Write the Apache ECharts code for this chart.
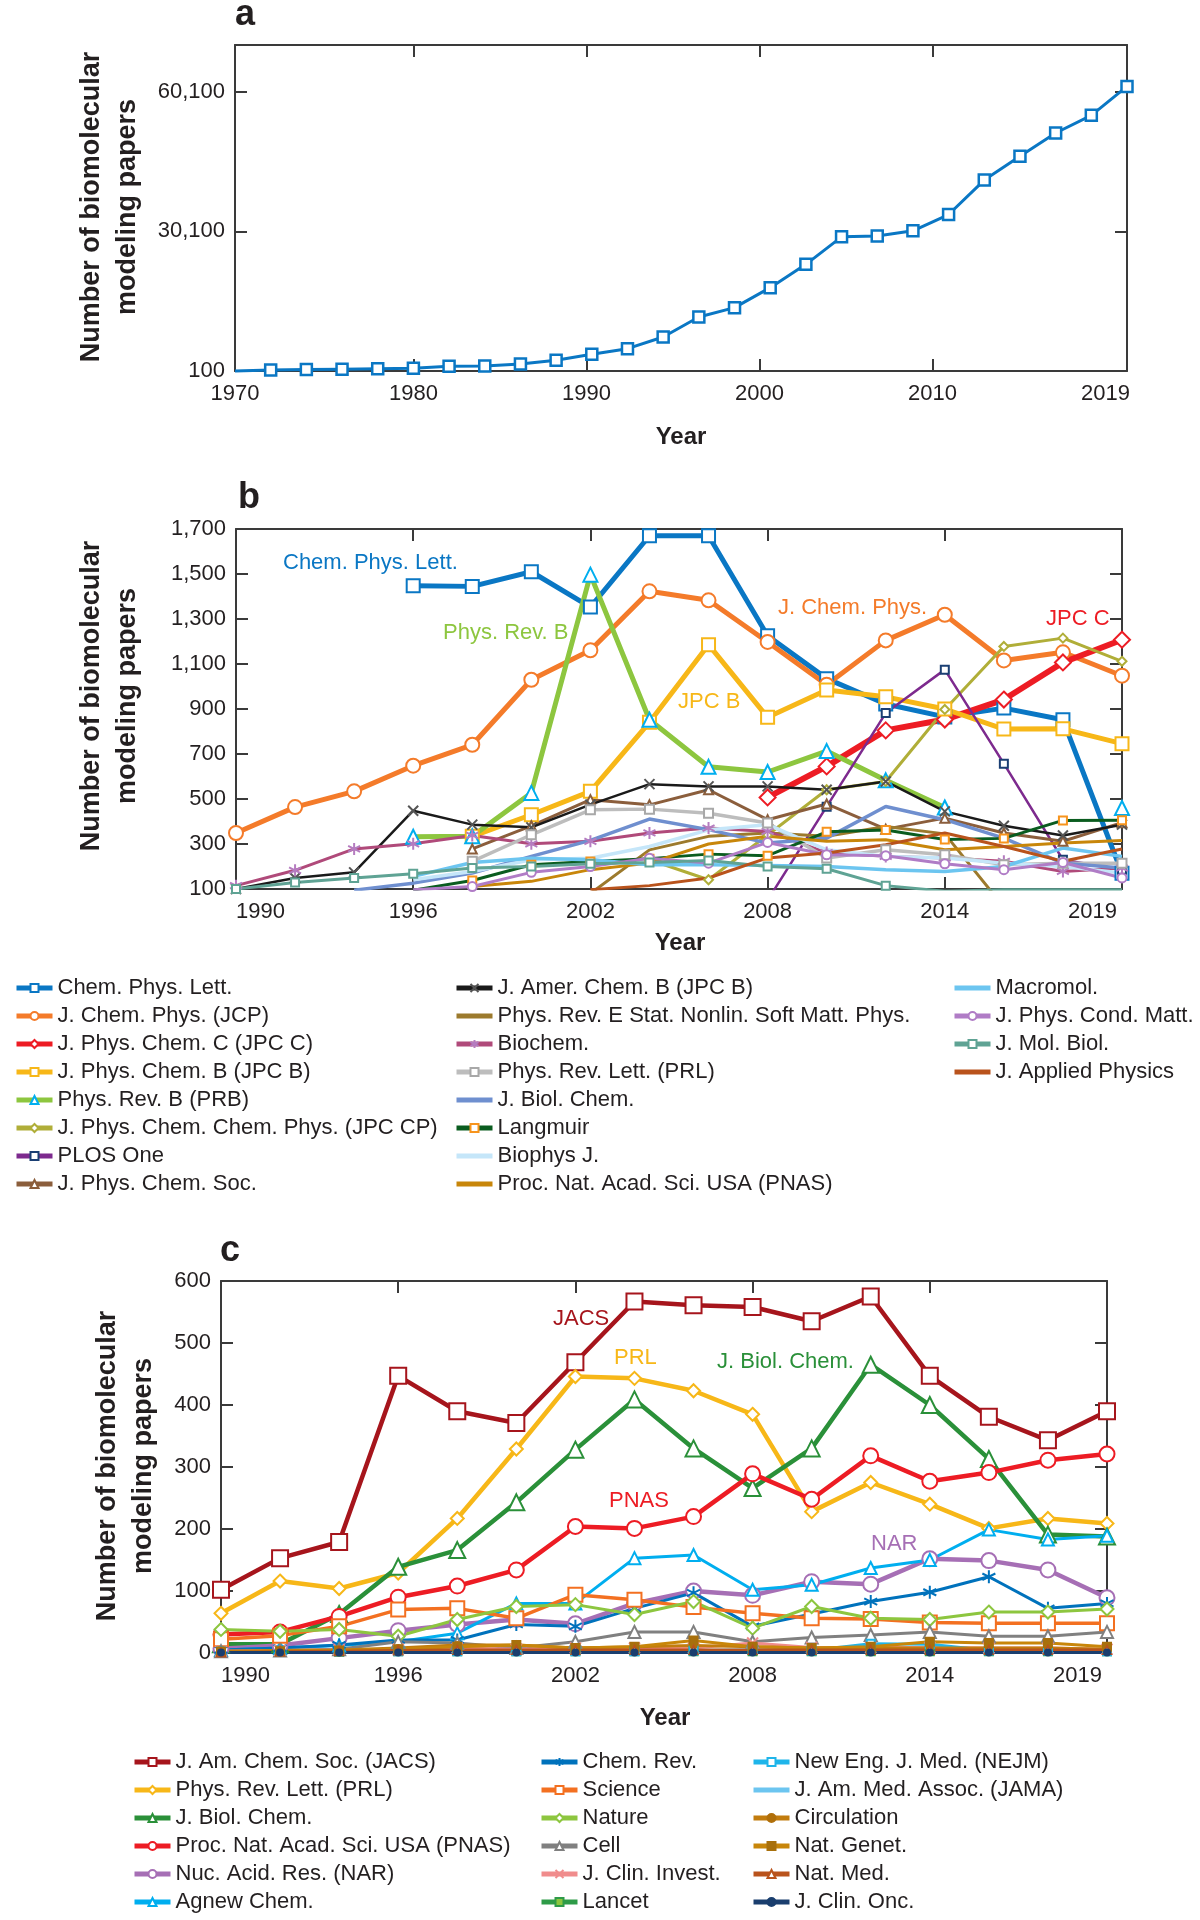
<!DOCTYPE html>
<html><head><meta charset="utf-8">
<script src="https://cdn.jsdelivr.net/npm/echarts@6/dist/echarts.min.js"></script>
<style>html,body{margin:0;padding:0;background:#fff}#c{width:1200px;height:1920px}</style>
</head><body><div id="c"></div><script>
// ---------------- DATA ----------------
// Panel a
const yearsA = [1970,1972,1974,1976,1978,1980,1982,1984,1986,1988,1990,1992,1994,1996,1998,2000,2002,2004,2006,2008,2010,2012,2014,2016,2018,2020];
const papersA = [100,300,400,500,600,700,1100,1200,1600,2400,3700,4900,7400,11700,13700,18000,23000,28900,29100,30200,33700,41100,46200,51200,55000,61200];
const xLabelTextA = ['1970','1980','1990','2000','2010','2019'];
const xLabelPosA = [1970,1980,1989.7,1999.4,2009.1,2018.8];
const xTickPosA = [1980,1989.7,1999.4,2009.1];
const yLabelsA = [100,30100,60100];

// Panels b and c share years
const yearsBC = [1990,1992,1994,1996,1998,2000,2002,2004,2006,2008,2010,2012,2014,2016,2018,2020];
const xLabelsBC = [1990,1996,2002,2008,2014,2019];
const xTicksBC = [1996,2002,2008,2014];
const yLabelsB = [100,300,500,700,900,1100,1300,1500,1700];
const yTicksB = [300,500,700,900,1100,1300,1500];
const yLabelsC = [0,100,200,300,400,500,600];
const yTicksC = [100,200,300,400,500];

// Panel b series
const bCPL      = [null,null,null,1448,1445,1510,1353,1670,1670,1226,1035,922,865,904,852,170];
const bJCP      = [349,464,534,648,741,1030,1161,1423,1383,1198,1008,1205,1319,1116,1152,1048];
const bJPCC     = [null,null,null,null,null,null,null,null,null,507,645,805,853,942,1107,1208];
const bJPCB     = [null,null,null,null,334,430,534,841,1186,863,984,954,900,811,812,746];
const bPRB      = [null,null,null,332,334,527,1497,852,643,620,713,583,462,null,null,460];
const bJPCCP    = [null,null,null,null,null,null,null,230,141,340,541,578,898,1178,1215,1112];
const bPLOS     = [null,null,null,null,null,null,null,null,null,50,466,882,1075,657,230,186];
const bJPCS     = [null,null,null,null,278,381,497,474,541,408,478,366,415,349,312,395];
const bJACB     = [100,149,174,448,386,374,475,566,556,556,541,578,445,381,338,386];
const bPRE      = [null,null,null,null,null,null,80,274,334,349,334,378,345,20,null,null];
const bBiochem  = [115,183,278,301,338,301,312,349,371,356,262,245,238,223,178,193];
const bPRL      = [null,null,null,null,223,341,452,455,437,393,238,274,252,208,215,215];
const bJBC      = [null,null,95,126,171,245,316,411,364,304,326,467,408,326,215,193];
const bLangmuir = [null,null,null,95,138,208,222,235,255,248,354,362,320,325,405,406];
const bBiophys  = [null,null,null,141,178,230,237,289,363,386,274,245,238,215,200,171];
const bPNAS     = [null,null,null,null,111,134,186,215,300,334,312,319,274,289,304,316];
const bMacromol = [null,null,null,156,218,237,230,208,208,205,200,186,178,200,282,245];
const bJPCM     = [null,null,null,97,111,174,200,237,215,307,252,248,212,186,218,149];
const bJMB      = [100,129,149,168,193,200,212,218,227,200,190,115,90,97,97,97];
const bJAP      = [null,null,null,null,null,null,97,115,149,238,260,297,349,289,223,278];

// Panel c series
const cJACS    = [102,153,179,447,390,371,469,567,561,558,535,575,447,381,343,390];
const cPRL     = [64,116,104,129,217,329,446,443,423,385,228,275,240,201,217,209];
const cJBC     = [14,14,63,139,166,243,328,409,330,266,330,465,400,313,191,188];
const cPNAS    = [30,34,59,90,108,134,204,201,220,289,248,318,277,291,311,321];
const cNAR     = [7,12,24,36,46,54,47,80,100,93,115,111,152,149,134,89];
const cAgnew   = [5,8,12,18,32,80,80,153,158,102,110,137,150,199,183,189];
const cChemRev = [5,8,13,21,21,46,43,72,97,43,63,83,98,123,72,80];
const cScience = [22,28,43,70,72,56,94,86,74,64,56,55,49,48,48,48];
const cNature  = [38,35,38,27,54,75,78,62,83,40,75,56,54,66,66,71];
const cCell    = [3,4,6,18,16,8,18,34,34,18,25,29,34,27,27,34];
const cJCI     = [3,4,5,6,8,6,8,8,8,16,9,9,9,8,8,6];
const cLancet  = [2,2,2,3,3,3,3,3,3,3,3,3,3,3,3,3];
const cNEJM    = [2,2,3,3,3,3,3,3,4,5,4,15,14,4,4,3];
const cJAMA    = [1,1,1,2,2,2,2,2,2,2,2,2,2,2,2,2];
const cCirc    = [3,4,5,8,13,13,8,10,12,10,8,8,8,8,8,6];
const cNatGen  = [2,3,4,6,10,13,8,10,20,10,8,10,18,16,16,10];
const cNatMed  = [1,2,3,4,5,5,5,5,5,5,5,5,5,5,5,5];
const cJCO     = [1,1,1,1,1,1,1,1,1,1,1,1,1,1,1,1];

// ---------------- STYLE ----------------
const FONT = '"Liberation Sans", Arial, Helvetica, sans-serif';
const INK = '#231f20';
const AXC = '#3a3a3a';
const ASTER = 'path://M5,0L5,10M0.67,2.5L9.33,7.5M0.67,7.5L9.33,2.5';
const CROSS = 'path://M0,0L10,10M0,10L10,0';
const CLEAR = 'rgba(0,0,0,0)';

const xAxes = [], yAxes = [];
function lab(v, pos, txt) {
  let best = 0, d = 1e9;
  pos.forEach((p, i) => { const dd = Math.abs(p - v); if (dd < d) { d = dd; best = i; } });
  return txt[best];
}
function frame(gi, xr, xLabPos, xLabTxt, xTicks, yr, yLabPos, yTicks, alignMin) {
  const line = {show: true, onZero: false, lineStyle: {color: AXC, width: 2}};
  const tick = vals => ({show: true, inside: true, length: 12, customValues: vals, lineStyle: {color: AXC, width: 2}});
  const lblStyle = {fontSize: 22, fontFamily: FONT, color: INK};
  xAxes.push({gridIndex: gi, type: 'value', position: 'bottom', min: xr[0], max: xr[1],
    axisLine: line, axisTick: tick(xTicks), splitLine: {show: false},
    axisLabel: Object.assign({customValues: xLabPos, margin: 12,
      formatter: v => lab(v, xLabPos, xLabTxt), alignMinLabel: alignMin ? 'left' : 'center'}, lblStyle)});
  xAxes.push({gridIndex: gi, type: 'value', position: 'top', min: xr[0], max: xr[1],
    axisLine: line, axisTick: tick(xTicks), splitLine: {show: false}, axisLabel: {show: false}});
  yAxes.push({gridIndex: gi, type: 'value', position: 'left', min: yr[0], max: yr[1],
    axisLine: line, axisTick: tick(yTicks), splitLine: {show: false},
    axisLabel: Object.assign({customValues: yLabPos, margin: 10,
      formatter: v => Number(v).toLocaleString('en-US')}, lblStyle)});
  yAxes.push({gridIndex: gi, type: 'value', position: 'right', min: yr[0], max: yr[1],
    axisLine: line, axisTick: tick(yTicks), splitLine: {show: false}, axisLabel: {show: false}});
}
frame(0, [1970, 2020], xLabelPosA, xLabelTextA, xTickPosA, [100, 70100], yLabelsA, [30100, 60100], false);
frame(1, [1990, 2020], xLabelsBC, xLabelsBC.map(String), xTicksBC, [100, 1700], yLabelsB, yTicksB, true);
frame(2, [1990, 2020], xLabelsBC, xLabelsBC.map(String), xTicksBC, [0, 600], yLabelsC, yTicksC, true);

function ser(gi, name, vals, color, width, symbol, size, mColor, fill, bw) {
  const item = symbol
    ? {color: fill || '#fff', borderColor: mColor || color, borderWidth: bw || 2}
    : {color: CLEAR, borderColor: CLEAR, borderWidth: 0, opacity: 0};
  return {
    type: 'line', name, xAxisIndex: 2 * gi, yAxisIndex: 2 * gi,
    data: yearsBC.map((y, i) => [y, vals[i] == null ? '-' : vals[i]]),
    connectNulls: false, clip: true,
    symbol: symbol || 'none', symbolSize: size || 0, showSymbol: !!symbol,
    lineStyle: {color, width},
    itemStyle: item,
    emphasis: {disabled: true}, silent: true, animation: false
  };
}

const series = [];
// panel a
series.push({
  type: 'line', name: 'all', xAxisIndex: 0, yAxisIndex: 0,
  data: yearsA.map((y, i) => i === 0 ? {value: [y, papersA[i]], symbol: 'none'} : [y, papersA[i]]),
  symbol: 'rect', symbolSize: 11, showSymbol: true, clip: false,
  lineStyle: {color: '#0a77c4', width: 3},
  itemStyle: {color: '#fff', borderColor: '#0a77c4', borderWidth: 2.5},
  emphasis: {disabled: true}, silent: true
});

// panel b
const B = [
  ['Chem. Phys. Lett.', bCPL, '#0a77c4', 5, 'rect', 13],
  ['J. Chem. Phys. (JCP)', bJCP, '#f47b2a', 5, 'circle', 14],
  ['J. Phys. Chem. C (JPC C)', bJPCC, '#ed1c24', 6, 'diamond', 16],
  ['J. Phys. Chem. B (JPC B)', bJPCB, '#f7b718', 5, 'rect', 13],
  ['Phys. Rev. B (PRB)', bPRB, '#8dc63f', 5, 'triangle', 14, '#00aeef'],
  ['J. Phys. Chem. Chem. Phys. (JPC CP)', bJPCCP, '#b0ae38', 3, 'diamond', 9],
  ['PLOS One', bPLOS, '#7d2a8e', 2.5, 'rect', 8, '#1b3f73'],
  ['J. Phys. Chem. Soc.', bJPCS, '#8b5e3c', 3, 'triangle', 9],
  ['J. Amer. Chem. B (JPC B)', bJACB, '#1a1a1a', 2.5, CROSS, 10, '#555555'],
  ['Phys. Rev. E Stat. Nonlin. Soft Matt. Phys.', bPRE, '#9c7a2d', 3],
  ['Biochem.', bBiochem, '#b04a7a', 3, ASTER, 12, '#b57cc0'],
  ['Phys. Rev. Lett. (PRL)', bPRL, '#bdbdbd', 3.5, 'rect', 9, '#a8a8a8'],
  ['J. Biol. Chem.', bJBC, '#6f8fcf', 3.5],
  ['Langmuir', bLangmuir, '#0a5c1f', 3, 'rect', 8, '#f7941d'],
  ['Biophys J.', bBiophys, '#c5e6f9', 3.5],
  ['Proc. Nat. Acad. Sci. USA (PNAS)', bPNAS, '#c8860a', 3],
  ['Macromol.', bMacromol, '#6cc5f0', 3.5],
  ['J. Phys. Cond. Matt.', bJPCM, '#b07cc6', 3, 'circle', 9],
  ['J. Mol. Biol.', bJMB, '#5fa394', 3, 'rect', 8],
  ['J. Applied Physics', bJAP, '#b9531c', 3]
];
B.forEach(s => series.push(ser(1, s[0], s[1], s[2], s[3], s[4], s[5], s[6])));

// panel c (trailing space keeps names distinct from panel b)
const C = [
  ['J. Am. Chem. Soc. (JACS)', cJACS, '#a6151c', 4.5, 'rect', 16],
  ['Phys. Rev. Lett. (PRL) ', cPRL, '#f7b718', 4.5, 'diamond', 13],
  ['J. Biol. Chem. ', cJBC, '#2a9039', 4.5, 'triangle', 16],
  ['Proc. Nat. Acad. Sci. USA (PNAS) ', cPNAS, '#ed1c24', 4.5, 'circle', 15],
  ['Nuc. Acid. Res. (NAR)', cNAR, '#a66fb5', 4.5, 'circle', 15],
  ['Agnew Chem.', cAgnew, '#00aeef', 3, 'triangle', 12],
  ['Chem. Rev.', cChemRev, '#0072bc', 3, ASTER, 13],
  ['Science', cScience, '#f37021', 3.5, 'rect', 14],
  ['Nature', cNature, '#8dc63f', 3, 'diamond', 13],
  ['Cell', cCell, '#808080', 3, 'triangle', 12],
  ['J. Clin. Invest.', cJCI, '#f08c8c', 3, CROSS, 11],
  ['Lancet', cLancet, '#2e9b48', 3, 'rect', 8, '#2e9b48', '#8dc63f'],
  ['New Eng. J. Med. (NEJM)', cNEJM, '#1fb5ea', 3, 'rect', 8],
  ['J. Am. Med. Assoc. (JAMA)', cJAMA, '#6cc5f0', 3],
  ['Circulation', cCirc, '#c27c0e', 3, 'circle', 6, '#b06f0a', '#b06f0a'],
  ['Nat. Genet.', cNatGen, '#c8860a', 3, 'rect', 8, '#a8700c', '#a8700c'],
  ['Nat. Med.', cNatMed, '#b9531c', 3, 'triangle', 8],
  ['J. Clin. Onc.', cJCO, '#1a3e6e', 3, 'circle', 6, '#1a3e6e', '#1a3e6e']
];
C.forEach(s => series.push(ser(2, s[0], s[1], s[2], s[3], s[4], s[5], s[6], s[7])));

function legendCol(rows, left, top) {
  return {
    data: rows.map(r => r[4] ? r[0] : {name: r[0], itemStyle: {opacity: 0}}),
    orient: 'vertical', left, top, padding: 0, itemGap: 6,
    itemWidth: 36, itemHeight: 10, selectedMode: false,
    lineStyle: {width: 5},
    textStyle: {fontSize: 22, fontFamily: FONT, color: INK, lineHeight: 22}};
}
const legends = [
  legendCol(B.slice(0, 8), 14, 977),
  legendCol(B.slice(8, 16), 454, 977),
  legendCol(B.slice(16), 952, 977),
  legendCol(C.slice(0, 6), 132, 1751),
  legendCol(C.slice(6, 12), 539, 1751),
  legendCol(C.slice(12), 751, 1751)
];

function txt(x, y, text, color, size, bold, align, rot) {
  return {type: 'text', x, y, rotation: rot || 0, silent: true,
    style: {text, fill: color, fontSize: size, fontWeight: bold ? 'bold' : 'normal',
      fontFamily: FONT, align: align || 'left', verticalAlign: 'middle', lineHeight: 36}};
}
const TITLE = 'Number of biomolecular\nmodeling papers';
const graphics = [
  txt(245, 15, 'a', INK, 36, true, 'center'),
  txt(249, 498, 'b', INK, 36, true, 'center'),
  txt(230, 1251, 'c', INK, 36, true, 'center'),
  txt(110, 207, TITLE, INK, 27, true, 'center', Math.PI / 2),
  txt(110, 696, TITLE, INK, 27, true, 'center', Math.PI / 2),
  txt(126, 1466, TITLE, INK, 27, true, 'center', Math.PI / 2),
  txt(681, 437, 'Year', INK, 24, true, 'center'),
  txt(680, 943, 'Year', INK, 24, true, 'center'),
  txt(665, 1718, 'Year', INK, 24, true, 'center'),
  txt(283, 563, 'Chem. Phys. Lett.', '#0a77c4', 22),
  txt(443, 633, 'Phys. Rev. B', '#8dc63f', 22),
  txt(678, 702, 'JPC B', '#f7b718', 22),
  txt(778, 608, 'J. Chem. Phys.', '#f47b2a', 22),
  txt(1046, 619, 'JPC C', '#ed1c24', 22),
  txt(553, 1319, 'JACS', '#a6151c', 22),
  txt(614, 1358, 'PRL', '#f7b718', 22),
  txt(609, 1501, 'PNAS', '#ed1c24', 22),
  txt(717, 1362, 'J. Biol. Chem.', '#2a9039', 22),
  txt(871, 1544, 'NAR', '#a66fb5', 22)
];

const chart = echarts.init(document.getElementById('c'), null, {renderer: 'canvas'});
chart.setOption({
  animation: false,
  backgroundColor: '#ffffff',
  grid: [
    {left: 235, top: 45, width: 892, height: 326, containLabel: false, outerBoundsMode: 'none'},
    {left: 236, top: 529, width: 886, height: 360, containLabel: false, outerBoundsMode: 'none'},
    {left: 221, top: 1281, width: 886, height: 372, containLabel: false, outerBoundsMode: 'none'}
  ],
  xAxis: xAxes, yAxis: yAxes,
  legend: legends,
  series,
  graphic: graphics
});
</script></body></html>
